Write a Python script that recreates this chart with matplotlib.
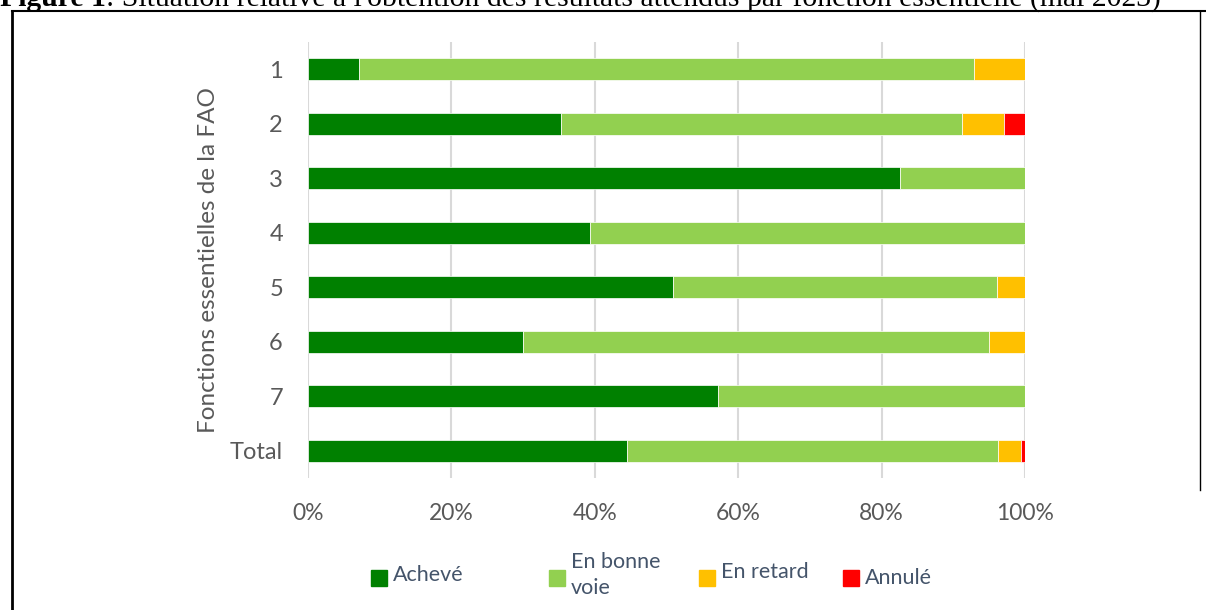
"Figure 1 - stacked horizontal bars by FAO core function"

import matplotlib
matplotlib.use("Agg")
import matplotlib.pyplot as plt
from matplotlib.patches import Rectangle
from matplotlib.lines import Line2D
import numpy as np

###################
# data (percent of expected results, May 2023)
categories = ["1", "2", "3", "4", "5", "6", "7", "Total"]
acheve = [7.1, 35.3, 82.6, 39.3, 50.9, 30.0, 57.2, 44.5]
en_bonne_voie = [85.8, 55.9, 17.4, 60.7, 45.2, 65.0, 42.8, 51.7]
en_retard = [7.1, 5.9, 0.0, 0.0, 3.9, 5.0, 0.0, 3.2]
annule = [0.0, 2.9, 0.0, 0.0, 0.0, 0.0, 0.0, 0.6]

series = [acheve, en_bonne_voie, en_retard, annule]
labels = ["Achevé", "En bonne\nvoie", "En retard", "Annulé"]
colors = ["#008000", "#92d050", "#ffc000", "#ff0000"]

grey = "#595959"
font = "Lato"

W, H = 1206, 610
fig = plt.figure(figsize=(W / 100, H / 100), dpi=100)

def fx(px):
    return px / W

def fy(py):
    return 1 - py / H

# axes placed in pixel terms
ax = fig.add_axes([fx(308), fy(478), fx(1025) - fx(308), fy(42) - fy(478)])

y = np.arange(len(categories))
left = np.zeros(len(categories))
for vals, col in zip(series, colors):
    vals = np.array(vals)
    ax.barh(y, vals, left=left, height=0.4, color=col,
            edgecolor="white", linewidth=0.5, zorder=3)
    left += vals

ax.set_xlim(0, 100)
ax.set_ylim(len(categories) - 0.5, -0.5)
ax.set_yticks(y)
ax.set_yticklabels(categories)
ax.set_xticks(np.arange(0, 101, 20))
ax.set_xticklabels([f"{v}%" for v in range(0, 101, 20)])
for s in ax.spines.values():
    s.set_visible(False)
ax.grid(axis="x", color="#d9d9d9", linewidth=1.5, zorder=0)
ax.tick_params(length=0, colors=grey)
ax.tick_params(axis="x", pad=18, labelsize=16.5)
ax.tick_params(axis="y", pad=18, labelsize=17)
for t in ax.get_xticklabels() + ax.get_yticklabels():
    t.set_family(font)
ax.set_ylabel("Fonctions essentielles de la FAO", fontsize=17.5,
              color=grey, family=font, labelpad=8)

# legend, laid out by hand like the original
leg_x = [371, 549, 699, 843]
leg_y = [578, 578, 578, 578]
text_y = [575, 575, 572, 578]
for lx, ly, ty, lab, col in zip(leg_x, leg_y, text_y, labels, colors):
    fig.add_artist(Rectangle((fx(lx), fy(ly + 8)), fx(16), 16 / H,
                             transform=fig.transFigure, color=col))
    fig.text(fx(lx + 22), fy(ty), lab, fontsize=15.5, color="#44546a",
             family=font, va="center", ha="left", linespacing=1.4)

# clipped caption on top
t1 = fig.text(fx(0), fy(6), "Figure 1", fontsize=21.4, weight="bold",
              family="Liberation Serif", va="baseline")
r = fig.canvas.get_renderer()
bb = t1.get_window_extent(renderer=r)
fig.text(bb.x1 / W, fy(6),
         ": Situation relative à l'obtention des résultats attendus par fonction essentielle (mai 2023)",
         fontsize=21.4, family="Liberation Serif", va="baseline")

# frame around the figure
fig.add_artist(Line2D([fx(12), 1], [fy(11), fy(11)], color="black",
                      linewidth=1.5, transform=fig.transFigure))
fig.add_artist(Line2D([fx(12), fx(12)], [fy(11), 0], color="black",
                      linewidth=2, transform=fig.transFigure))
fig.add_artist(Line2D([fx(1200), fx(1200)], [fy(11), fy(490)], color="black",
                      linewidth=1, transform=fig.transFigure))

fig.savefig("out.png", dpi=100)
